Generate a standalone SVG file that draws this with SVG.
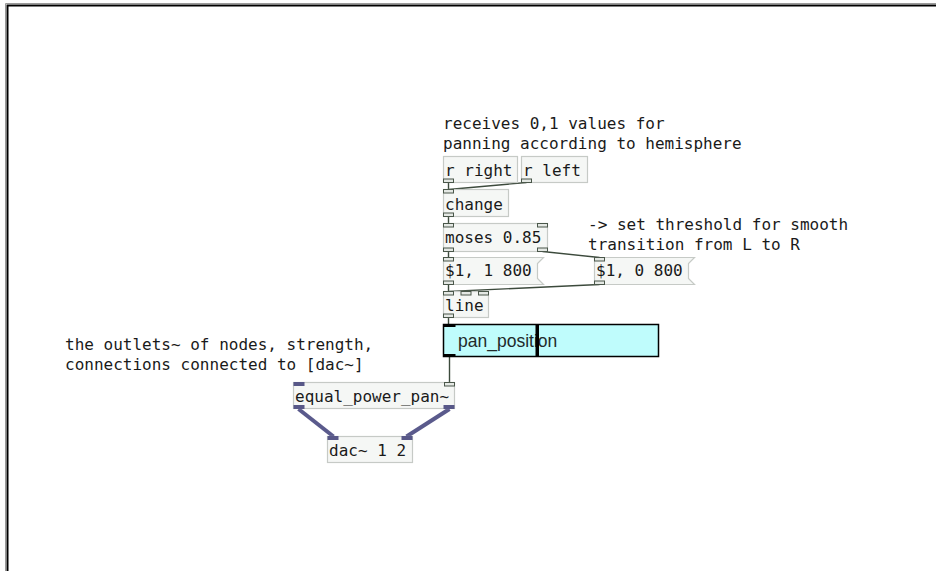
<svg xmlns="http://www.w3.org/2000/svg" width="936" height="571" viewBox="0 0 936 571">
  <style>
    .bg { fill: #ffffff; }
    .frame { fill: none; stroke: #000; stroke-width: 2; }
    .frame2 { fill: none; stroke: #9a9a9a; stroke-width: 1; }
    .obj { fill: #f5f7f5; stroke: #c6cac6; stroke-width: 1.2; }
    .txt { font-family: "DejaVu Sans Mono", "Liberation Mono", monospace; font-size: 16px; fill: #1a1a1a; }
    .io { fill: #e4e8e4; stroke: #4a574a; stroke-width: 1; }
    .sig { fill: #585888; }
    .conn { fill: none; stroke: #3c4a3c; stroke-width: 1.4; }
    .sigconn { fill: none; stroke: #5a5a8c; stroke-width: 4; }
    .slider { fill: #bffcfc; stroke: #000; stroke-width: 1.5; }
    .gui-io { fill: #000; }
    .label { font-family: "Liberation Sans", Arial, sans-serif; font-size: 17.5px; fill: #222a2a; }
  </style>

  <rect class="bg" x="0" y="0" width="936" height="571"/>

  <!-- canvas frame -->
  <path class="frame2" d="M5.5 571 V3.5 H936"/>
  <path class="frame" d="M7.5 571 V5.5 H936"/>

  <!-- comments -->
  <g id="comment-receives">
    <text class="txt" x="443" y="129">receives 0,1 values for</text>
    <text class="txt" x="443" y="149">panning according to hemisphere</text>
  </g>
  <g id="comment-threshold">
    <text class="txt" x="588" y="230">-&gt; set threshold for smooth</text>
    <text class="txt" x="588" y="250">transition from L to R</text>
  </g>
  <g id="comment-outlets">
    <text class="txt" x="65" y="350">the outlets~ of nodes, strength,</text>
    <text class="txt" x="65" y="370">connections connected to [dac~]</text>
  </g>

  <!-- connections -->
  <g id="connections">
    <line class="conn" x1="448.5" y1="182.5" x2="448.5" y2="189.5"/>
    <line class="conn" x1="526.5" y1="182.5" x2="448.5" y2="189.5"/>
    <line class="conn" x1="448.5" y1="216.5" x2="448.5" y2="223.5"/>
    <line class="conn" x1="448.5" y1="251.5" x2="448.5" y2="257.5"/>
    <line class="conn" x1="542.5" y1="251.5" x2="599.5" y2="257.5"/>
    <line class="conn" x1="448.5" y1="284.5" x2="448.5" y2="291.5"/>
    <line class="conn" x1="599.5" y1="284.5" x2="448.5" y2="291.5"/>
    <line class="conn" x1="448.5" y1="317.5" x2="448.5" y2="324.5"/>
    <line class="conn" x1="449.5" y1="356.5" x2="449.5" y2="382.5"/>
    <line class="sigconn" x1="298.5" y1="409" x2="333.5" y2="436.5"/>
    <line class="sigconn" x1="449.5" y1="409" x2="406.5" y2="436.5"/>
  </g>

  <!-- objects -->
  <g id="r-right">
    <rect class="obj" x="443.5" y="156.5" width="74" height="26"/>
    <text class="txt" x="445" y="176">r right</text>
    <rect class="io" x="443.5" y="179" width="10" height="3.5"/>
  </g>
  <g id="r-left">
    <rect class="obj" x="521.5" y="156.5" width="66" height="26"/>
    <text class="txt" x="523" y="176">r left</text>
    <rect class="io" x="521.5" y="179" width="10" height="3.5"/>
  </g>
  <g id="change">
    <rect class="obj" x="443.5" y="189.5" width="65" height="27"/>
    <text class="txt" x="445" y="210">change</text>
    <rect class="io" x="443.5" y="189.5" width="10" height="3.5"/>
    <rect class="io" x="443.5" y="213" width="10" height="3.5"/>
  </g>
  <g id="moses">
    <rect class="obj" x="443.5" y="223.5" width="104" height="28"/>
    <text class="txt" x="445" y="243">moses 0.85</text>
    <rect class="io" x="443.5" y="223.5" width="10" height="3.5"/>
    <rect class="io" x="537.5" y="223.5" width="10" height="3.5"/>
    <rect class="io" x="443.5" y="248" width="10" height="3.5"/>
    <rect class="io" x="537.5" y="248" width="10" height="3.5"/>
  </g>
  <g id="msg-on">
    <path class="obj" d="M443.5 257.5 H543.5 L537.5 263.5 V278.5 L543.5 284.5 H443.5 Z"/>
    <text class="txt" x="445" y="276">$1, 1 800</text>
    <rect class="io" x="443.5" y="257.5" width="10" height="3.5"/>
    <rect class="io" x="443.5" y="281" width="10" height="3.5"/>
  </g>
  <g id="msg-off">
    <path class="obj" d="M594.5 257.5 H694.5 L688.5 263.5 V278.5 L694.5 284.5 H594.5 Z"/>
    <text class="txt" x="596" y="276">$1, 0 800</text>
    <rect class="io" x="594.5" y="257.5" width="10" height="3.5"/>
    <rect class="io" x="594.5" y="281" width="10" height="3.5"/>
  </g>
  <g id="line">
    <rect class="obj" x="443.5" y="291.5" width="45" height="26"/>
    <text class="txt" x="445" y="311">line</text>
    <rect class="io" x="443.5" y="291.5" width="10" height="3.5"/>
    <rect class="io" x="461" y="291.5" width="10" height="3.5"/>
    <rect class="io" x="478.5" y="291.5" width="10" height="3.5"/>
    <rect class="io" x="443.5" y="314" width="10" height="3.5"/>
  </g>
  <g id="pan-position">
    <rect class="slider" x="443.5" y="324.5" width="215" height="32"/>
    <rect class="gui-io" x="443.5" y="324.5" width="12" height="2.5"/>
    <rect class="gui-io" x="443.5" y="354" width="12" height="2.5"/>
    <text class="label" x="458" y="347">pan_position</text>
    <rect class="gui-io" x="535.5" y="324.5" width="3.5" height="32"/>
  </g>
  <g id="equal-power-pan">
    <rect class="obj" x="293.5" y="382.5" width="161" height="26"/>
    <text class="txt" x="295" y="402">equal_power_pan~</text>
    <rect class="sig" x="293.5" y="382" width="11" height="4"/>
    <rect class="io" x="444.5" y="382.5" width="10" height="3.5"/>
    <rect class="sig" x="293.5" y="405" width="11" height="4"/>
    <rect class="sig" x="443.5" y="405" width="11" height="4"/>
  </g>
  <g id="dac">
    <rect class="obj" x="327.5" y="436.5" width="85" height="26"/>
    <text class="txt" x="329" y="456">dac~ 1 2</text>
    <rect class="sig" x="327.5" y="436" width="11" height="4"/>
    <rect class="sig" x="401.5" y="436" width="11" height="4"/>
  </g>
</svg>
